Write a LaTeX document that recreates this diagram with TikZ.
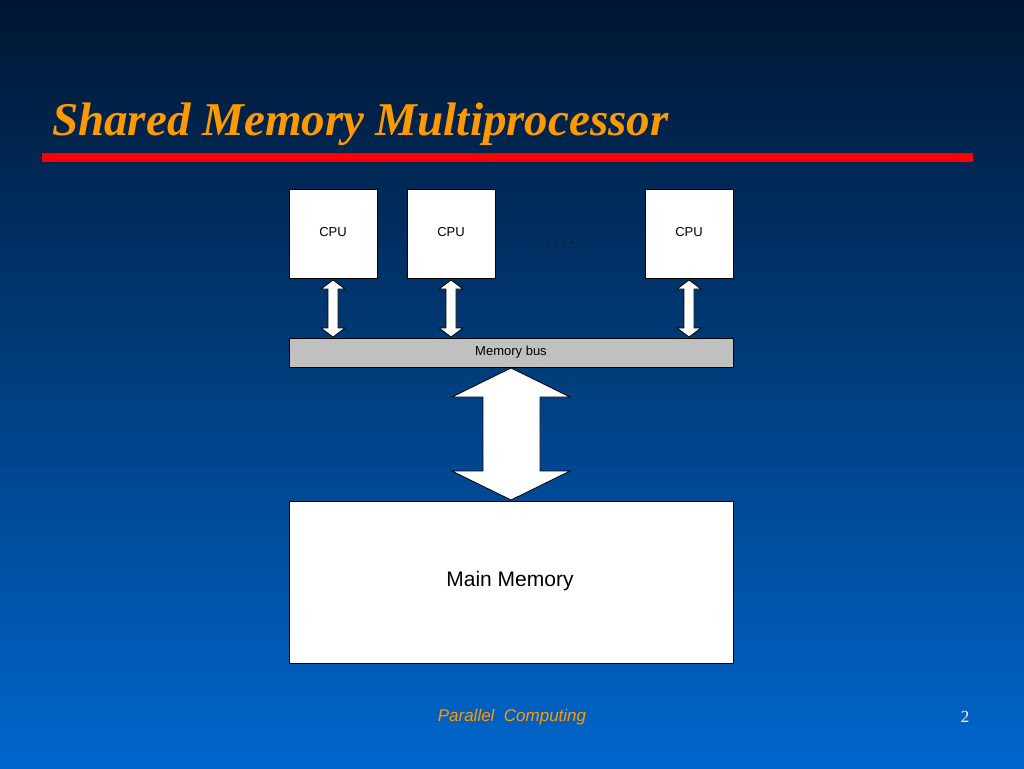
\documentclass[tikz,border=0pt]{standalone}
\usepackage{fontspec}
\setmainfont{Liberation Serif}
\newfontfamily\sansf{Liberation Sans}
\definecolor{bgtop}{RGB}{0,22,50}
\definecolor{bgbot}{RGB}{0,102,204}
\definecolor{ttl}{RGB}{255,153,0}
\definecolor{busgray}{RGB}{192,192,192}
\begin{document}
\begin{tikzpicture}[x=1pt,y=-1pt,
  box/.style={draw=black,fill=white,line width=0.8pt},
  lbl/.style={font=\sansf\fontsize{13}{15}\selectfont,text=black},
  dbl/.style={draw=black,fill=white,line width=0.8pt}]
\useasboundingbox (0,0) rectangle (1024,768);
\shade[top color=bgtop,bottom color=bgbot] (0,0) rectangle (1024,768);
\node[anchor=base west,text=ttl,inner sep=0,font=\bfseries\itshape\fontsize{47}{50}\selectfont] (title) at (52,135) {Shared Memory Multiprocessor};
\fill[red] (42,153) rectangle (973,162);
% CPUs
\draw[box] (289,189) rectangle (377,278);
\draw[box] (407,189) rectangle (495,278);
\draw[box] (645,189) rectangle (733,278);
\node[lbl] (c1) at (333,232) {CPU};
\node[lbl] (c2) at (451,232) {CPU};
\node[lbl] (c3) at (689,232) {CPU};
\node[lbl] (dots) at (560,243) {. . . . . .};
% small double arrows
\foreach \cx in {333,451,689}{
  \draw[dbl] (\cx,280) -- (\cx+12,289) -- (\cx+5,289) -- (\cx+5,328) -- (\cx+12,328) -- (\cx,337) -- (\cx-12,328) -- (\cx-5,328) -- (\cx-5,289) -- (\cx-12,289) -- cycle;
}
% bus
\draw[fill=busgray,draw=black,line width=0.8pt] (289,338) rectangle (733,367);
\node[lbl] (bus) at (511,352) {Memory bus};
% big arrow
\draw[dbl] (511,368) -- (570,397) -- (540,397) -- (540,471) -- (570,471) -- (511,500) -- (452,471) -- (483,471) -- (483,397) -- (452,397) -- cycle;
% main memory
\draw[box] (289,501) rectangle (733,663);
\node[font=\sansf\fontsize{21}{24}\selectfont] (mm) at (510,581) {Main Memory};
\node[text=ttl,font=\sansf\itshape\fontsize{17}{20}\selectfont] (foot) at (512,717) {Parallel\ \ Computing};
\node[text=white,font=\fontsize{17}{20}\selectfont] (pg) at (965,717) {2};
\end{tikzpicture}
\end{document}
